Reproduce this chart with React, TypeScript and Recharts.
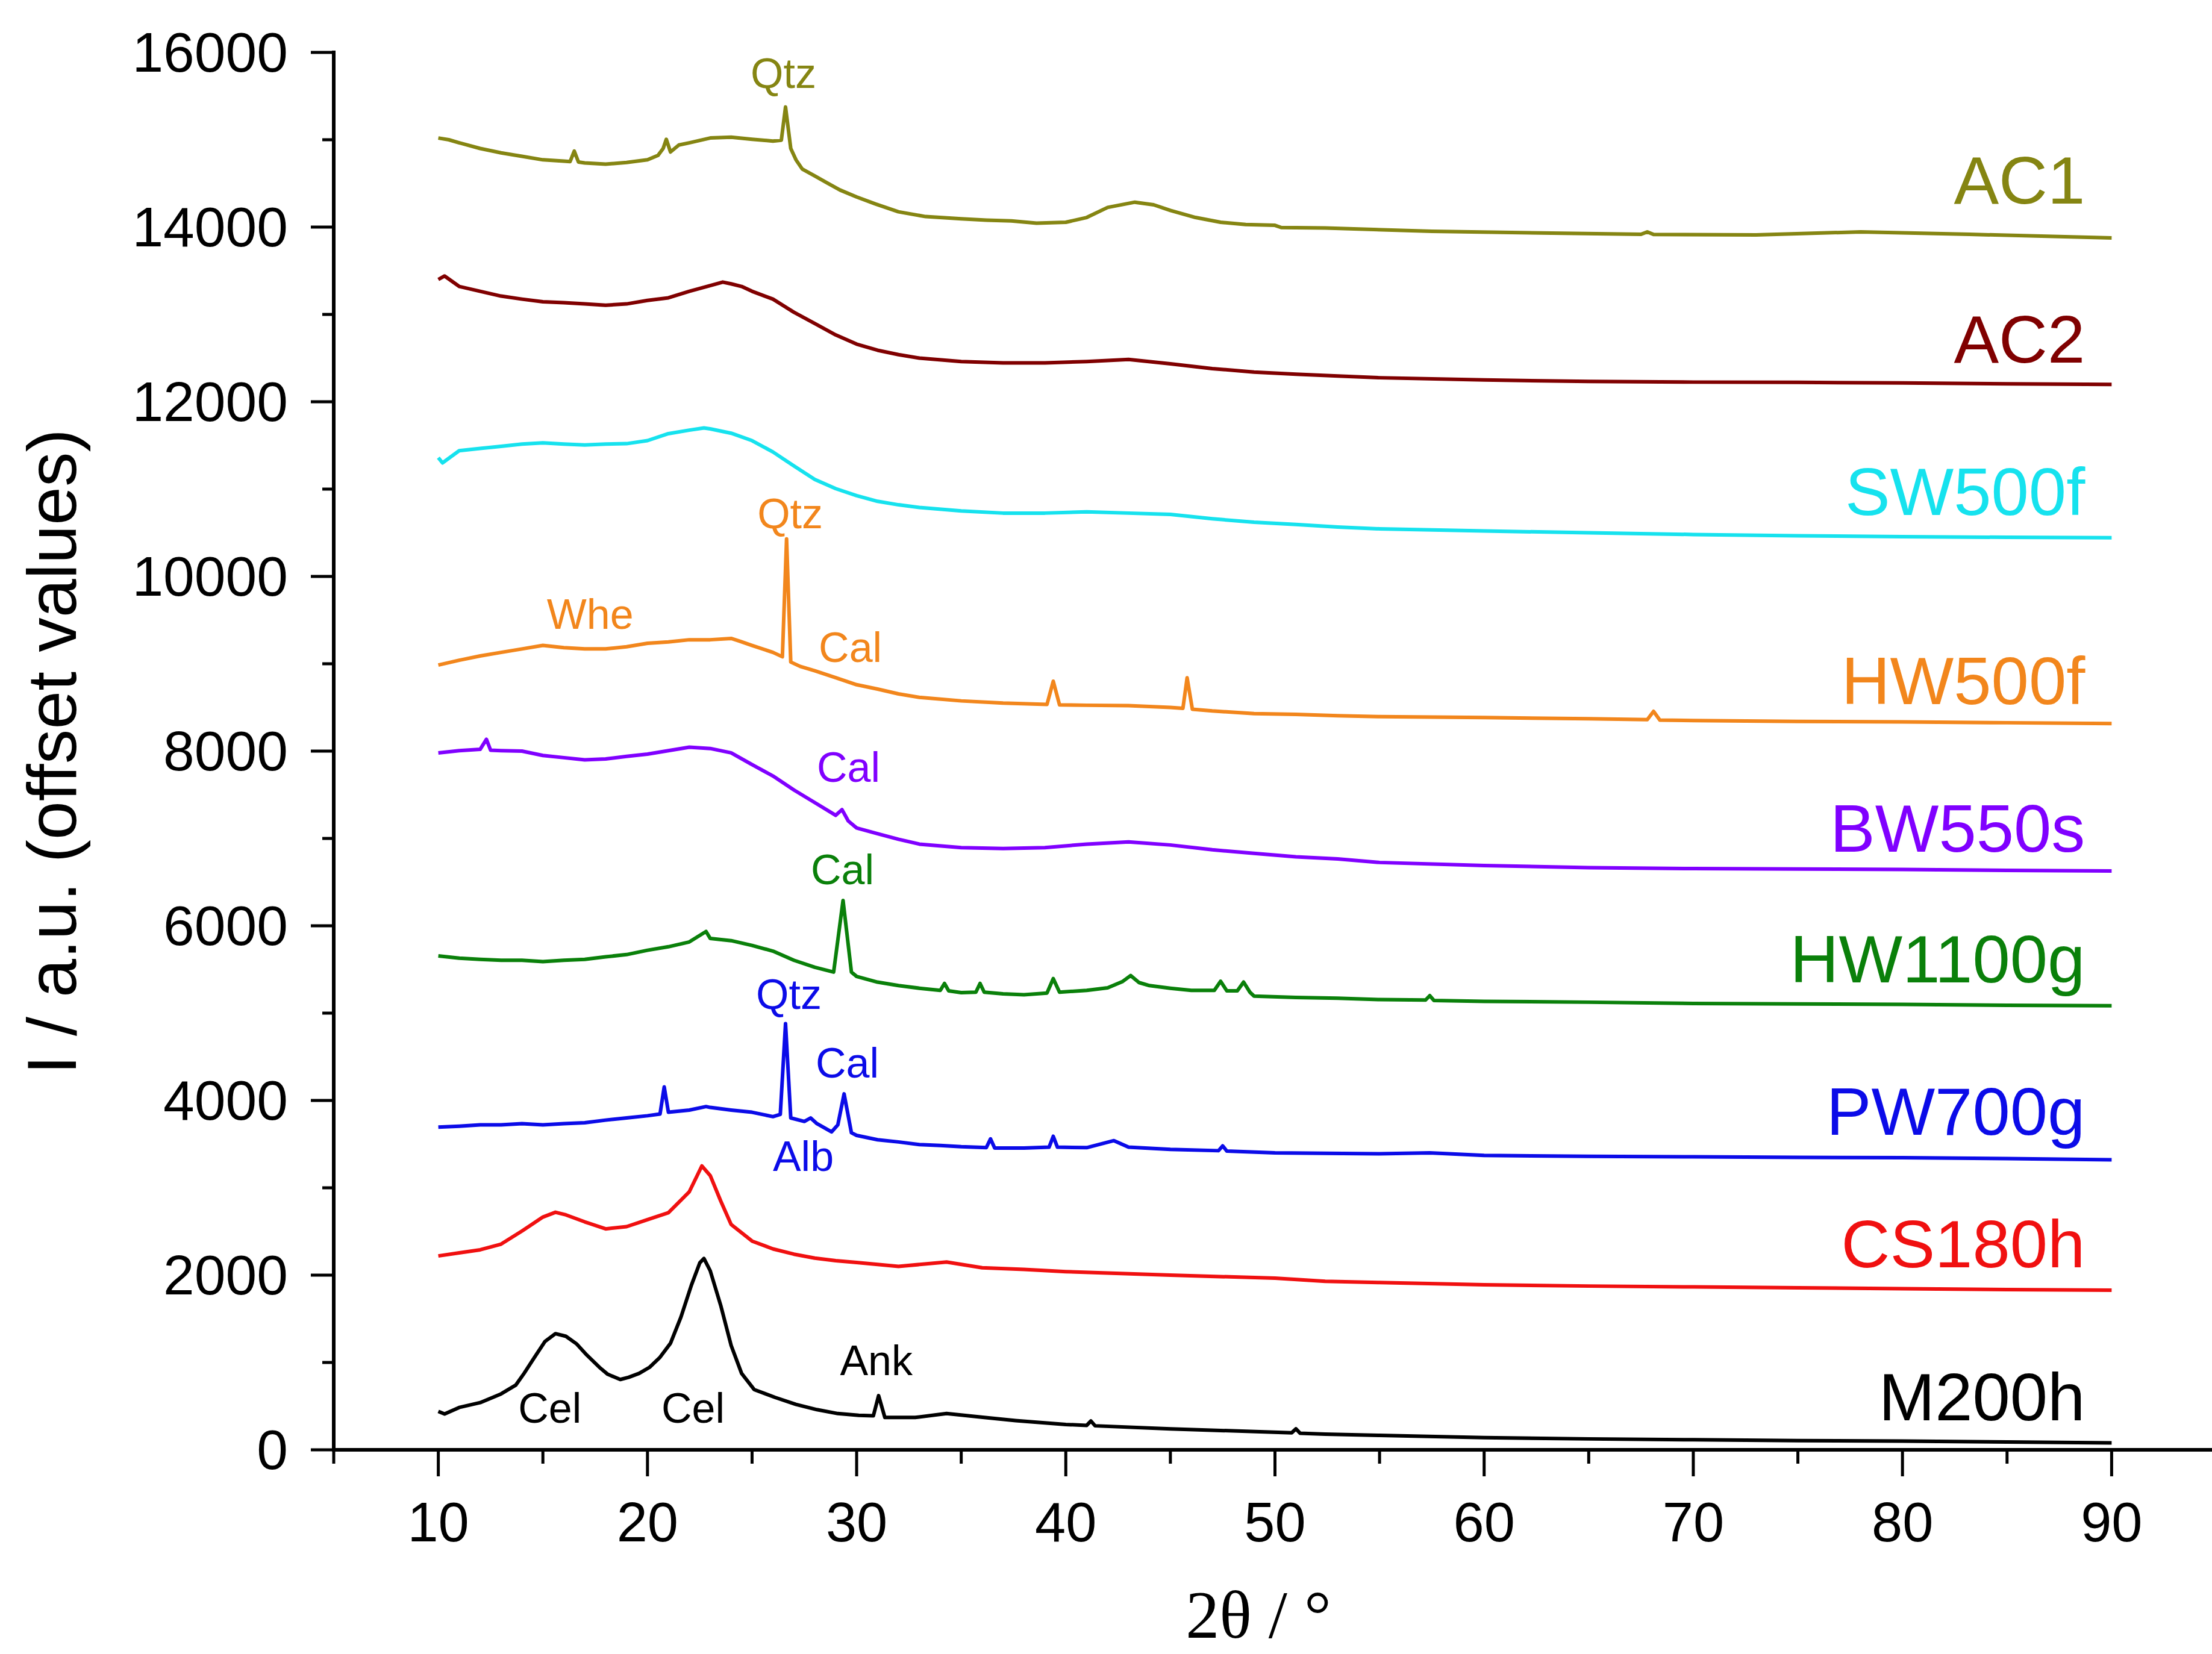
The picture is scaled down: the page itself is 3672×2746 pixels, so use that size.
import React from "react";
import { LineChart, Line, XAxis, YAxis, ReferenceDot } from "recharts";

// [2θ, intensity] pairs, one array per sample
const ac1: [number, number][] = [
  [10, 15020], [10.5, 15000], [11, 14965], [12, 14900], [13, 14850], [14, 14810], [15, 14770], [16, 14755],
  [16.3, 14750], [16.5, 14870], [16.7, 14745], [17, 14735], [18, 14720], [19, 14740], [20, 14770], [20.5, 14820],
  [20.75, 14900], [20.9, 15005], [21.1, 14860], [21.5, 14940], [22, 14965], [23, 15020], [24, 15030], [25, 15005],
  [26, 14985], [26.4, 14995], [26.6, 15375], [26.85, 14900], [27.1, 14770], [27.4, 14665], [28, 14585], [28.6, 14505],
  [29.2, 14425], [30, 14345], [30.9, 14265], [32, 14175], [33.3, 14120], [35, 14095], [36.2, 14080], [37.4, 14070],
  [38.6, 14045], [40, 14055], [41, 14110], [42, 14225], [43.3, 14285], [44.2, 14255], [45, 14190], [46.2, 14110],
  [47.4, 14055], [48.6, 14030], [50, 14020], [50.3, 13995], [52.4, 13990], [57.5, 13952], [62.7, 13932], [67.5, 13917],
  [67.8, 13945], [68.1, 13915], [73, 13910], [78, 13945], [83.2, 13917], [90, 13876],
];

const ac2: [number, number][] = [
  [10, 13400], [10.3, 13440], [11, 13320], [12, 13265], [13, 13210], [14, 13175], [15, 13145], [16, 13135],
  [17, 13120], [18, 13105], [19, 13120], [20, 13160], [21, 13190], [22, 13265], [23, 13330], [23.6, 13370],
  [24, 13350], [24.5, 13320], [25, 13265], [26, 13175], [27, 13025], [28, 12895], [29, 12765], [30, 12660],
  [31, 12590], [32, 12540], [33, 12500], [35, 12460], [37, 12445], [39, 12445], [41, 12460], [43, 12485],
  [45, 12435], [47, 12380], [49, 12340], [51, 12315], [53, 12295], [55, 12275], [60, 12250], [65, 12232],
  [70, 12225], [75, 12222], [80, 12215], [85, 12205], [90, 12198],
];

const sw500f: [number, number][] = [
  [10, 11360], [10.2, 11300], [11, 11440], [12, 11465], [13, 11490], [14, 11515], [15, 11530], [16, 11515],
  [17, 11505], [18, 11515], [19, 11520], [20, 11555], [21, 11635], [22, 11675], [22.7, 11700], [23, 11690],
  [24, 11640], [25, 11555], [26, 11425], [27, 11265], [28, 11110], [29, 11005], [30, 10925], [31, 10860],
  [32, 10820], [33, 10790], [35, 10750], [37, 10725], [39, 10725], [41, 10740], [43, 10725], [45, 10710],
  [47, 10660], [49, 10620], [51, 10595], [53, 10565], [55, 10545], [60, 10520], [65, 10500], [70, 10480],
  [75, 10465], [80, 10455], [85, 10448], [90, 10443],
];

const hw500f: [number, number][] = [
  [10, 8985], [11, 9040], [12, 9090], [13, 9130], [14, 9170], [15, 9210], [16, 9185], [17, 9170],
  [18, 9170], [19, 9195], [20, 9235], [21, 9250], [22, 9275], [23, 9275], [24, 9290], [24.4, 9260],
  [25, 9210], [26, 9130], [26.45, 9080], [26.65, 10430], [26.85, 9020], [27.3, 8970], [28, 8920], [29, 8840],
  [30, 8760], [31, 8710], [32, 8655], [33, 8615], [35, 8575], [37, 8550], [39.1, 8535], [39.4, 8800],
  [39.7, 8530], [41, 8525], [43, 8520], [45, 8500], [45.6, 8490], [45.8, 8840], [46.05, 8480], [47, 8460],
  [49, 8430], [51, 8420], [53, 8405], [55, 8395], [60, 8385], [65, 8370], [67.8, 8360], [68.1, 8455],
  [68.4, 8355], [70, 8350], [75, 8340], [80, 8335], [85, 8325], [90, 8315],
];

const bw550s: [number, number][] = [
  [10, 7980], [11, 8005], [12, 8020], [12.3, 8135], [12.5, 8010], [13, 8005], [14, 8000], [15, 7950],
  [16, 7925], [17, 7900], [18, 7910], [19, 7940], [20, 7965], [21, 8005], [22, 8045], [23, 8030],
  [24, 7980], [25, 7845], [26, 7715], [27, 7555], [28, 7410], [29, 7265], [29.3, 7330], [29.6, 7200],
  [30, 7120], [31, 7055], [32, 6990], [33, 6935], [35, 6895], [37, 6885], [39, 6895], [41, 6935],
  [43, 6960], [45, 6925], [47, 6870], [49, 6830], [51, 6790], [53, 6765], [55, 6725], [60, 6690],
  [65, 6665], [70, 6655], [75, 6650], [80, 6645], [85, 6635], [90, 6628],
];

const hw1100g: [number, number][] = [
  [10, 5655], [11, 5630], [12, 5615], [13, 5605], [14, 5605], [15, 5590], [16, 5605], [17, 5615],
  [18, 5645], [19, 5670], [20, 5720], [21, 5760], [22, 5815], [22.8, 5935], [23, 5855], [24, 5830],
  [25, 5775], [26, 5710], [27, 5605], [28, 5525], [28.9, 5470], [29.35, 6290], [29.75, 5470], [30, 5420],
  [31, 5355], [32, 5315], [33, 5285], [34, 5260], [34.2, 5340], [34.4, 5255], [35, 5235], [35.7, 5240],
  [35.9, 5340], [36.1, 5240], [37, 5220], [38, 5210], [39.1, 5230], [39.4, 5395], [39.7, 5240], [40, 5245],
  [41, 5260], [42, 5290], [42.7, 5360], [43.1, 5430], [43.5, 5350], [44, 5315], [45, 5285], [46, 5260],
  [47.1, 5260], [47.4, 5365], [47.7, 5255], [48.2, 5255], [48.5, 5355], [48.8, 5240], [49, 5195], [51, 5180],
  [53, 5170], [55, 5155], [57.2, 5150], [57.4, 5200], [57.6, 5145], [60, 5135], [65, 5125], [70, 5110],
  [75, 5105], [80, 5100], [85, 5090], [90, 5085],
];

const pw700g: [number, number][] = [
  [10, 3695], [11, 3705], [12, 3720], [13, 3720], [14, 3735], [15, 3720], [16, 3735], [17, 3745],
  [18, 3775], [19, 3800], [20, 3825], [20.6, 3845], [20.8, 4155], [21, 3865], [22, 3890], [22.8, 3930],
  [23, 3920], [24, 3890], [25, 3865], [26, 3815], [26.35, 3840], [26.6, 4880], [26.85, 3800], [27.5, 3760],
  [27.8, 3800], [28.1, 3735], [28.8, 3640], [29.1, 3720], [29.4, 4075], [29.75, 3630], [30, 3600], [31, 3550],
  [32, 3525], [33, 3495], [34, 3485], [35, 3470], [36.2, 3460], [36.4, 3560], [36.6, 3455], [38, 3455],
  [39.2, 3465], [39.4, 3590], [39.6, 3465], [41, 3460], [42.3, 3540], [43, 3465], [45, 3440], [47.3, 3425],
  [47.5, 3480], [47.7, 3420], [50, 3400], [52.4, 3395], [55, 3390], [57.4, 3400], [60, 3370], [65, 3360],
  [70, 3355], [75, 3348], [80, 3345], [85, 3335], [90, 3320],
];

const cs180h: [number, number][] = [
  [10, 2220], [11, 2255], [12, 2290], [13, 2355], [14, 2505], [15, 2665], [15.6, 2720], [16.1, 2690],
  [17, 2610], [18, 2530], [19, 2555], [20, 2635], [21, 2715], [22, 2955], [22.6, 3250], [23, 3140],
  [23.5, 2850], [24, 2580], [25, 2390], [26, 2300], [27, 2240], [28, 2195], [29, 2165], [30, 2145],
  [32, 2100], [34.3, 2150], [36, 2085], [38, 2065], [40, 2040], [45, 2000], [50, 1965], [52.4, 1930],
  [55, 1915], [60, 1890], [65, 1875], [70, 1865], [75, 1855], [80, 1845], [85, 1835], [90, 1828],
];

const m200h: [number, number][] = [
  [10, 440], [10.3, 410], [11, 485], [12, 540], [13, 640], [13.7, 740], [14.1, 875], [14.6, 1060],
  [15.1, 1240], [15.6, 1330], [16.1, 1300], [16.6, 1215], [17.1, 1085], [17.7, 945], [18.1, 865], [18.7, 805],
  [19.1, 830], [19.6, 875], [20.1, 945], [20.6, 1060], [21.1, 1220], [21.6, 1520], [22.1, 1885], [22.5, 2140],
  [22.7, 2190], [23, 2050], [23.5, 1655], [24, 1195], [24.5, 875], [25.1, 690], [26.1, 600], [27.1, 520],
  [28.1, 460], [29.1, 415], [30.1, 395], [30.8, 390], [31.05, 620], [31.35, 370], [32.8, 370], [34.3, 415],
  [36.1, 370], [37.6, 335], [40, 290], [41, 280], [41.2, 330], [41.4, 275], [45, 240], [50.8, 195],
  [51, 240], [51.2, 190], [52.4, 180], [55, 165], [60, 140], [65, 125], [70, 115], [75, 105],
  [80, 100], [85, 90], [90, 80],
];

const seriesNames = ["AC1", "AC2", "SW500f", "HW500f", "BW550s", "HW1100g", "PW700g", "CS180h", "M200h"];
const seriesData = [ac1, ac2, sw500f, hw500f, bw550s, hw1100g, pw700g, cs180h, m200h];
const seriesColors = ["#858512", "#800000", "#16E2EE", "#F2861C", "#8000FF", "#0A800A", "#0B0BE8", "#F01010", "#000000"];
// where each sample name sits (right-aligned), in data units
const nameX = [88.73, 88.73, 88.73, 88.73, 88.73, 88.73, 88.73, 88.73, 88.73];
const nameY = [14271, 12451, 10706, 8535, 6846, 5350, 3606, 2089, 338];

// phase labels: text, sample index, 2θ, intensity
const phaseText = ["Qtz", "Qtz", "Whe", "Cal", "Cal", "Cal", "Qtz", "Cal", "Alb", "Cel", "Cel", "Ank"];
const phaseSeries = [0, 3, 3, 3, 4, 5, 6, 6, 6, 8, 8, 8];
const phaseX = [26.5, 26.82, 17.26, 29.7, 29.61, 29.32, 26.76, 29.55, 27.45, 15.33, 22.18, 30.94];
const phaseY = [15594, 10555, 9397, 9024, 7645, 6473, 5046, 4260, 3192, 310, 310, 855];

const xTicks = [5, 10, 15, 20, 25, 30, 35, 40, 45, 50, 55, 60, 65, 70, 75, 80, 85, 90, 95];
const yTicks = [0, 1000, 2000, 3000, 4000, 5000, 6000, 7000, 8000, 9000, 10000, 11000, 12000, 13000, 14000, 15000, 16000];

const SANS = "'Liberation Sans', Arial, sans-serif";

function YTick({ x, y, payload }: any) {
  const major = payload.value % 2000 === 0;
  return (
    <g>
      <line x1={x} x2={x - (major ? 38 : 19)} y1={y} y2={y} stroke="#000" strokeWidth={5} />
      {major && (
        <text x={x - 76} y={y} textAnchor="end" dominantBaseline="central" fontSize={93} fontFamily={SANS} fill="#000">
          {payload.value}
        </text>
      )}
    </g>
  );
}

function XTick({ x, y, payload }: any) {
  const major = payload.value % 10 === 0;
  return (
    <g>
      <line x1={x} x2={x} y1={y} y2={y + (major ? 44 : 23)} stroke="#000" strokeWidth={5} />
      {major && (
        <text x={x} y={y + 152} textAnchor="middle" fontSize={92} fontFamily={SANS} fill="#000">
          {payload.value}
        </text>
      )}
    </g>
  );
}

export default function App() {
  return (
    <div style={{ position: "absolute", left: 0, top: 0, width: 3672, height: 2746, overflow: "hidden", background: "#fff" }}>
      <LineChart width={3700} height={2746} margin={{ top: 87, right: 21, bottom: 0, left: 0 }}>
        <XAxis
          type="number"
          dataKey="x"
          domain={[5, 95]}
          ticks={xTicks}
          interval={0}
          tickSize={0}
          tickMargin={0}
          tickLine={false}
          tick={<XTick />}
          height={339}
          axisLine={{ stroke: "#000", strokeWidth: 6, strokeLinecap: "square" }}
          allowDataOverflow
          label={({ viewBox }: any) => (
            <text x={viewBox.x + 1535} y={viewBox.y + 312} textAnchor="middle" fontSize={112}
              fontFamily="'Liberation Serif', 'Times New Roman', serif" fill="#000">
              2θ / °
            </text>
          )}
        />
        <YAxis
          type="number"
          domain={[0, 16000]}
          ticks={yTicks}
          interval={0}
          tickSize={0}
          tickMargin={0}
          tickLine={false}
          tick={<YTick />}
          width={554}
          axisLine={{ stroke: "#000", strokeWidth: 6, strokeLinecap: "square" }}
          allowDataOverflow
          label={({ viewBox }: any) => {
            const cx = viewBox.x + 126;
            const cy = viewBox.y + viewBox.height / 2 + 1;
            return (
              <text x={cx} y={cy} transform={`rotate(-90, ${cx}, ${cy})`} textAnchor="middle"
                fontSize={115} fontFamily={SANS} fill="#000">
                I / a.u. (offset values)
              </text>
            );
          }}
        />
        {seriesData.map((d, i) => (
          <Line
            key={seriesNames[i]}
            data={d.map(([x, y]) => ({ x, y }))}
            dataKey="y"
            type="linear"
            stroke={seriesColors[i]}
            strokeWidth={6}
            strokeLinejoin="round"
            dot={false}
            activeDot={false}
            isAnimationActive={false}
          />
        ))}
        {seriesNames.map((name, i) => (
          <ReferenceDot
            key={"n" + name}
            x={nameX[i]}
            y={nameY[i]}
            r={0}
            ifOverflow="visible"
            shape={(p: any) => (
              <text x={p.cx} y={p.cy} textAnchor="end" fontSize={112} fontFamily={SANS} fill={seriesColors[i]}>
                {name}
              </text>
            )}
          />
        ))}
        {phaseText.map((t, i) => (
          <ReferenceDot
            key={"p" + i}
            x={phaseX[i]}
            y={phaseY[i]}
            r={0}
            ifOverflow="visible"
            shape={(p: any) => (
              <text x={p.cx} y={p.cy} textAnchor="middle" fontSize={70} fontFamily={SANS} fill={seriesColors[phaseSeries[i]]}>
                {t}
              </text>
            )}
          />
        ))}
      </LineChart>
    </div>
  );
}
